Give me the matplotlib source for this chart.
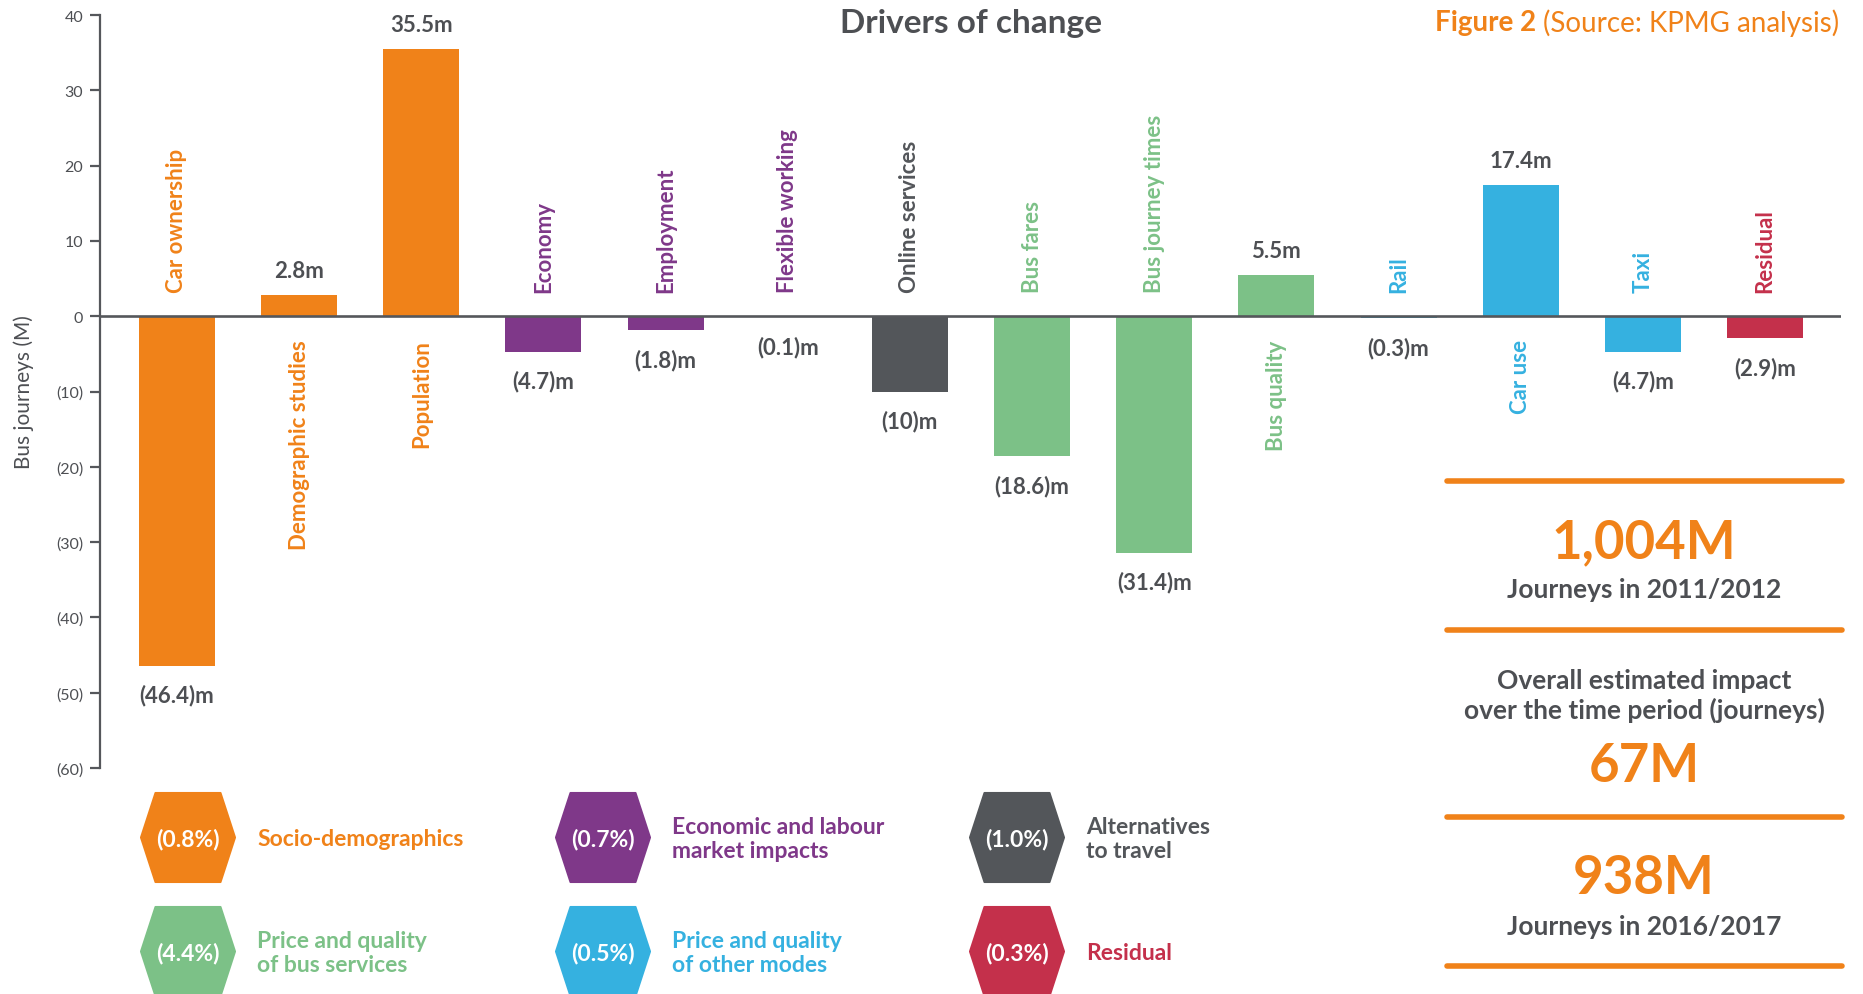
import matplotlib
matplotlib.use("Agg")
import matplotlib.pyplot as plt
from matplotlib.patches import Polygon

# ---------------- data ----------------
categories = ["Car ownership", "Demographic studies", "Population", "Economy", "Employment",
              "Flexible working", "Online services", "Bus fares", "Bus journey times",
              "Bus quality", "Rail", "Car use", "Taxi", "Residual"]
values = [-46.4, 2.8, 35.5, -4.7, -1.8, -0.1, -10, -18.6, -31.4, 5.5, -0.3, 17.4, -4.7, -2.9]
value_labels = ["(46.4)m", "2.8m", "35.5m", "(4.7)m", "(1.8)m", "(0.1)m", "(10)m",
                "(18.6)m", "(31.4)m", "5.5m", "(0.3)m", "17.4m", "(4.7)m", "(2.9)m"]
groups = [0, 0, 0, 1, 1, 1, 2, 3, 3, 3, 4, 4, 4, 5]

group_names = ["Socio-demographics", "Economic and labour\nmarket impacts", "Alternatives\nto travel",
               "Price and quality\nof bus services", "Price and quality\nof other modes", "Residual"]
group_pcts = ["(0.8%)", "(0.7%)", "(1.0%)", "(4.4%)", "(0.5%)", "(0.3%)"]
group_colors = ["#F08219", "#7F3889", "#53565A", "#7CC187", "#35B1E0", "#C4304B"]

yticks = [40, 30, 20, 10, 0, -10, -20, -30, -40, -50, -60]

summary_start = "1,004M"
summary_start_label = "Journeys in 2011/2012"
summary_impact_label = "Overall estimated impact\nover the time period (journeys)"
summary_impact = "67M"
summary_end = "938M"
summary_end_label = "Journeys in 2016/2017"

# ---------------- style ----------------
FONT = ["Lato", "DejaVu Sans"]
plt.rcParams["font.family"] = FONT
GRAY = "#4D4F53"
AXGRAY = "#55575B"
ORANGE = group_colors[0]

W, H = 1863, 995
fig = plt.figure(figsize=(W / 100, H / 100), dpi=100)

ax_left, ax_right, ax_top, ax_bottom = 100, 1841, 16, 769
ax = fig.add_axes([ax_left / W, (H - ax_bottom) / H, (ax_right - ax_left) / W, (ax_bottom - ax_top) / H])

x = list(range(len(categories)))
colors = [group_colors[g] for g in groups]
ax.bar(x, values, width=0.622, color=colors, zorder=2)
ax.axhline(0, color=AXGRAY, lw=1.9, zorder=3)

ax.set_xlim(-0.630, 13.622)
ax.set_ylim(-60, 40)
for s in ["top", "right", "bottom"]:
    ax.spines[s].set_visible(False)
ax.spines["left"].set_color(AXGRAY)
ax.spines["left"].set_linewidth(1.6)
ax.set_xticks([])
ax.set_yticks(yticks)
ax.set_yticklabels([f"({-v})" if v < 0 else str(v) for v in yticks])
ax.tick_params(axis="y", length=7, width=1.6, color=AXGRAY, pad=5, labelsize=11.5, labelcolor=GRAY)
ax.patch.set_alpha(0)

# value labels and category labels
for i, (v, lab, cat, g) in enumerate(zip(values, value_labels, categories, groups)):
    if v >= 0:
        ax.annotate(lab, xy=(i, v), xytext=(0, 13), textcoords="offset points",
                    ha="center", va="baseline", fontsize=16, fontweight="bold", color=GRAY)
        ax.annotate(cat, xy=(i, 0), xytext=(0, -16.6), textcoords="offset points",
                    ha="center", va="top", rotation=90, fontsize=16, fontweight="bold",
                    color=group_colors[g])
    else:
        ax.annotate(lab, xy=(i, v), xytext=(0, -26), textcoords="offset points",
                    ha="center", va="baseline", fontsize=16, fontweight="bold", color=GRAY)
        ax.annotate(cat, xy=(i, 0), xytext=(0, 17.3), textcoords="offset points",
                    ha="center", va="bottom", rotation=90, fontsize=16, fontweight="bold",
                    color=group_colors[g])

# ---------------- overlay (pixel coordinates) ----------------
ov = fig.add_axes([0, 0, 1, 1])
ov.set_xlim(0, W)
ov.set_ylim(H, 0)
ov.axis("off")
ov.patch.set_alpha(0)

ov.text(971, 24, "Drivers of change", ha="center", va="center", fontsize=24,
        fontweight="bold", color=GRAY)
ov.text(24, 392, "Bus journeys (M)", ha="center", va="center", rotation=90,
        fontsize=15, color=GRAY)

# Figure label top right
t1 = ov.text(1839, 23, "(Source: KPMG analysis)", ha="right", va="center", fontsize=20,
             color=ORANGE)
ov.annotate("Figure 2 ", xy=(0, 0.5), xycoords=t1, ha="right", va="center", fontsize=20,
            fontweight="bold", color=ORANGE)

# Legend hexagons
col_x = [188, 603, 1017]
row_y = [838.5, 952.5]
hw, tw, hh = 47, 32.5, 44.5
for k, (name, pct, c) in enumerate(zip(group_names, group_pcts, group_colors)):
    cx = col_x[k % 3]
    cy = row_y[k // 3]
    hexagon = Polygon([(cx - hw, cy), (cx - tw, cy - hh), (cx + tw, cy - hh),
                       (cx + hw, cy), (cx + tw, cy + hh), (cx - tw, cy + hh)],
                      closed=True, facecolor=c, edgecolor=c, lw=1.5, joinstyle="round")
    ov.add_patch(hexagon)
    ov.text(cx, cy + 1, pct, ha="center", va="center", fontsize=16.5, fontweight="bold",
            color="white")
    ov.text(cx + 69, cy + 1, name, ha="left", va="center", fontsize=16.5, fontweight="bold",
            color=c, linespacing=1.22)

# Right summary panel
for yl in [482, 631, 818, 967]:
    ov.plot([1447, 1842], [yl, yl], color=ORANGE, lw=4, solid_capstyle="round")
pcx = 1644
ov.text(pcx, 543, summary_start, ha="center", va="center", fontsize=38, fontweight="bold", color=ORANGE)
ov.text(pcx, 590, summary_start_label, ha="center", va="center", fontsize=19, fontweight="bold", color=GRAY)
ov.text(pcx, 696, summary_impact_label, ha="center", va="center", fontsize=19, fontweight="bold",
        color=GRAY, linespacing=1.25)
ov.text(pcx, 767, summary_impact, ha="center", va="center", fontsize=38, fontweight="bold", color=ORANGE)
ov.text(pcx, 879, summary_end, ha="center", va="center", fontsize=38, fontweight="bold", color=ORANGE)
ov.text(pcx, 927, summary_end_label, ha="center", va="center", fontsize=19, fontweight="bold", color=GRAY)

fig.savefig("out.png", dpi=100)
